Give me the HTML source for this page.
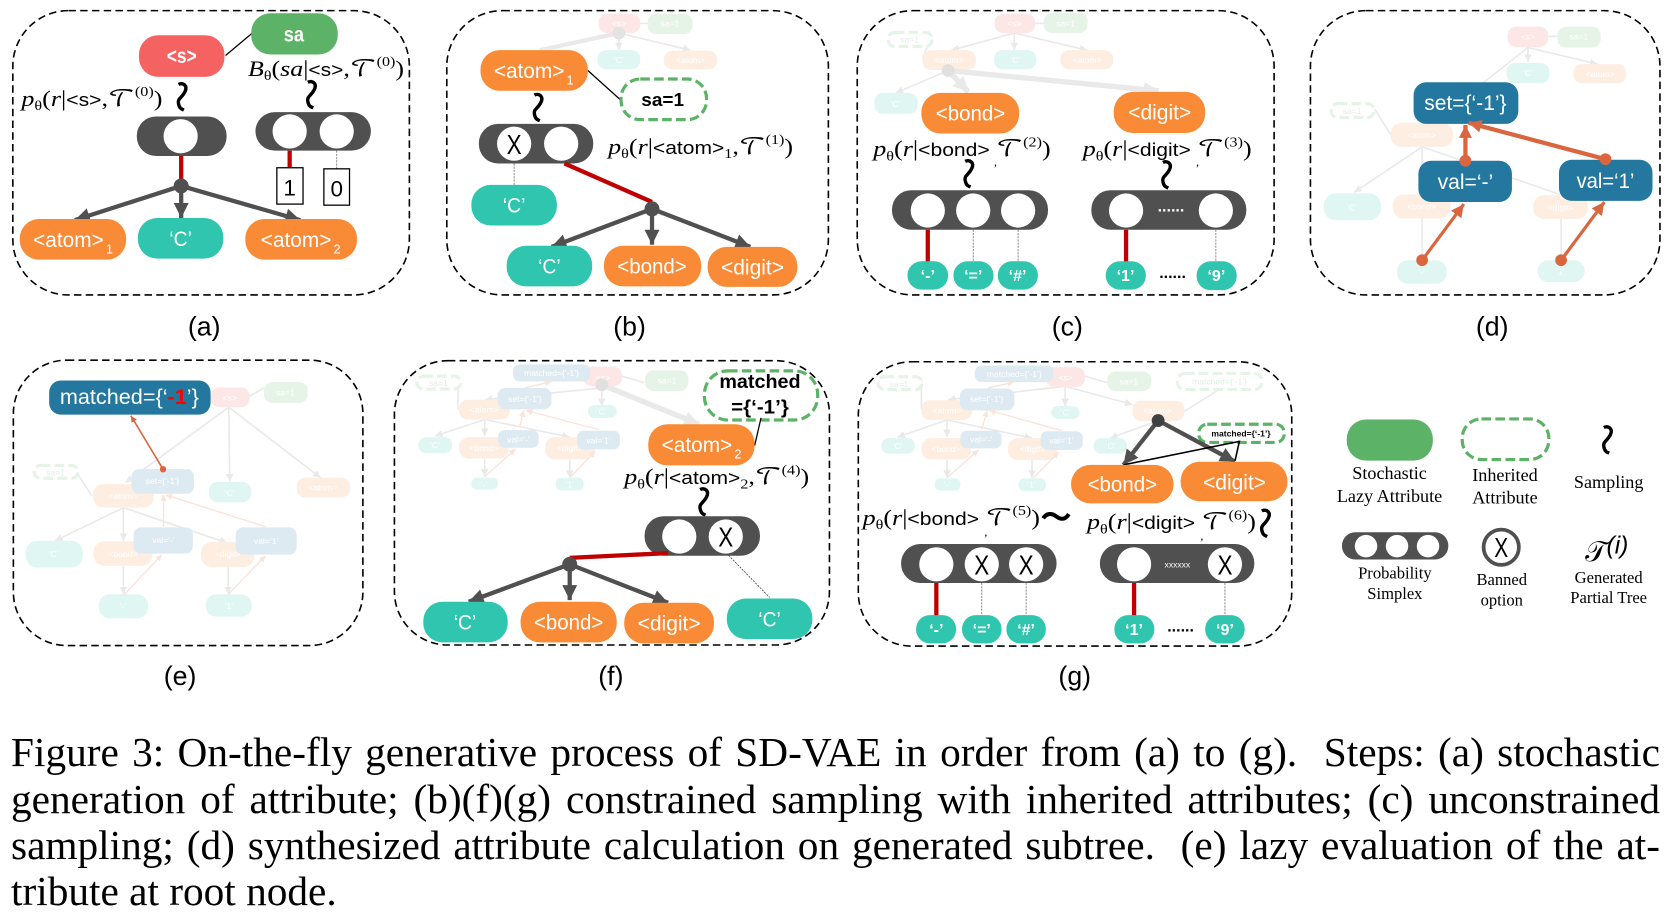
<!DOCTYPE html>
<html><head><meta charset="utf-8"><style>
html,body{margin:0;padding:0;background:#fff;width:1676px;height:918px;overflow:hidden;position:relative}
svg{display:block;position:absolute;left:0;top:.8px}
text{font-family:"Liberation Sans",sans-serif}
.m{text-anchor:middle}
.w{fill:#fff}
.n{font-size:20px;fill:#fff;text-anchor:middle}
.sub{font-size:12px;fill:#fff}
.t{font-size:15px;fill:#fff;text-anchor:middle;font-weight:bold}
.fx{font-size:8px;fill:#fff;text-anchor:middle}
.box{fill:none;stroke:#000;stroke-width:1.5;stroke-dasharray:7 4}
.o{fill:#f98b36}.c{fill:#30c5ae}.b{fill:#24789f}.g{fill:#5cb266}.r{fill:#f56262}.d{fill:#505050}
.fo{fill:#feeee2}.fc{fill:#e0f6f2}.fb{fill:#deeaf1}.fg{fill:#e6f3e7}.fr{fill:#fde6e6}
.gd{fill:#fff;stroke:#5cb266;stroke-width:3;stroke-dasharray:9 4}
.fd{fill:#fff;stroke:#e6f3e7;stroke-width:3;stroke-dasharray:9 4}
.fs{font-size:8px;fill:#dfeee1;text-anchor:middle}
.red{stroke:#c00000;stroke-width:4;fill:none}
.dash{stroke:#777;stroke-width:.8;stroke-dasharray:2 1;fill:none}
.k{stroke:#505050;stroke-width:4;fill:none;marker-end:url(#ak)}
.l{stroke:#000;stroke-width:1.2;fill:none}
.fl{stroke:#e9e9e9;stroke-width:1.5;fill:none;marker-end:url(#af)}
.fp{stroke:#e9e9e9;stroke-width:1.5;fill:none}
.fa{stroke:#fbe3da;stroke-width:1.3;fill:none;marker-end:url(#afa)}
.oa{stroke:#d9663f;fill:none}
.sq{fill:none;stroke:#000;stroke-width:3.2}
.f{font-family:"Liberation Serif",serif;font-size:21px;fill:#000}
.f .i{font-style:italic}
.f .T{font-family:"DejaVu Math TeX Gyre","DejaVu Serif","DejaVu Sans",serif}
.f .s{font-size:13px}
.f .a{font-family:"Liberation Sans",sans-serif;font-size:17px}
.lb{font-size:25px;text-anchor:middle;fill:#000}
.lg{font-family:"Liberation Serif",serif;font-size:17px;text-anchor:middle;fill:#000}
.cm{font-family:"Liberation Serif",serif;font-size:11px;fill:#000}
.x{font-size:26px;fill:#000;text-anchor:middle}
.cap{position:absolute;left:11px;width:1649px;font:41.3px/46px "Liberation Serif",serif;color:#000;white-space:nowrap;text-align:justify;text-align-last:justify}
.cap.e{text-align-last:left}
</style></head><body>
<svg width="1676" height="918" viewBox="0 0 1568 858.83" xmlns="http://www.w3.org/2000/svg">
<defs>
<marker id="ak" markerUnits="userSpaceOnUse" markerWidth="16" markerHeight="16" refX="14" refY="7" orient="auto"><path d="M0 0L14 7L0 14z" fill="#505050"/></marker>
<marker id="af" markerUnits="userSpaceOnUse" markerWidth="10" markerHeight="10" refX="7" refY="3.5" orient="auto"><path d="M0 0L7 3.5L0 7z" fill="#e9e9e9"/></marker>
<marker id="afg" markerUnits="userSpaceOnUse" markerWidth="16" markerHeight="16" refX="14" refY="7" orient="auto"><path d="M0 0L14 7L0 14z" fill="#e9e9e9"/></marker>
<marker id="afa" markerUnits="userSpaceOnUse" markerWidth="10" markerHeight="10" refX="6" refY="3" orient="auto"><path d="M0 0L6 3L0 6z" fill="#fbe3da"/></marker>
<marker id="ao" markerUnits="userSpaceOnUse" markerWidth="16" markerHeight="16" refX="12" refY="6" orient="auto"><path d="M0 0L12 6L0 12z" fill="#d9663f"/></marker>
<marker id="aos" markerUnits="userSpaceOnUse" markerWidth="10" markerHeight="10" refX="6" refY="3" orient="auto"><path d="M0 0L6 3L0 6z" fill="#d9663f"/></marker>
</defs>

<!-- (a) -->
<rect class="box" x="12" y="9" width="371" height="266" rx="52"/>
<line class="l" x1="211" y1="51" x2="236" y2="30"/>
<rect class="r" x="130" y="32" width="80" height="39" rx="18"/><text class="n" x="170" y="58" textLength="28" lengthAdjust="spacingAndGlyphs" font-weight="bold">&lt;s&gt;</text>
<rect class="g" x="235" y="11.500" width="81" height="38.500" rx="18"/><text class="n" x="275" y="38" textLength="19" lengthAdjust="spacingAndGlyphs" font-weight="bold">sa</text>
<text class="f" x="232" y="70" textLength="146" lengthAdjust="spacingAndGlyphs"><tspan class="i">B</tspan><tspan class="s" dy="4">θ</tspan><tspan dy="-4">(</tspan><tspan class="i">sa</tspan>|<tspan class="a">&lt;s&gt;</tspan>,<tspan class="T">𝒯</tspan><tspan class="s" dy="-9">(0)</tspan><tspan dy="9">)</tspan></text>
<text class="f" x="20" y="98" textLength="132" lengthAdjust="spacingAndGlyphs"><tspan class="i">p</tspan><tspan class="s" dy="4">θ</tspan><tspan dy="-4">(</tspan><tspan class="i">r</tspan>|<tspan class="a">&lt;s&gt;</tspan>,<tspan class="T">𝒯</tspan><tspan class="s" dy="-9">(0)</tspan><tspan dy="9">)</tspan></text>
<path class="sq" d="M167 78c4-2 9 1 6 7s-7 6-6 11s3 5 5 6"/>
<path class="sq" d="M288 76c4-2 9 1 6 7s-7 6-6 11s3 5 5 6"/>
<rect class="d" x="128" y="108" width="84" height="37" rx="18"/><circle class="w" cx="169" cy="126.500" r="16"/>
<rect class="d" x="239" y="104" width="108" height="36" rx="18"/><circle class="w" cx="271" cy="122" r="16"/><circle class="w" cx="315" cy="122" r="16"/>
<line class="red" x1="169.500" y1="145" x2="169.500" y2="170"/>
<line class="red" x1="271" y1="140" x2="271" y2="156"/><line class="dash" x1="315" y1="140" x2="315" y2="157"/>
<rect x="259" y="156" width="24.500" height="34" fill="#fff" stroke="#000" stroke-width="1.200"/><text x="271" y="182" class="m" font-size="21">1</text>
<rect x="303" y="157" width="24" height="34" fill="#fff" stroke="#000" stroke-width="1.200"/><text x="315" y="183" class="m" font-size="21">0</text>
<line class="k" x1="169.500" y1="173" x2="70" y2="205"/><line class="k" x1="169.500" y1="173" x2="169.500" y2="203"/><line class="k" x1="169.500" y1="173" x2="281" y2="205"/>
<circle class="d" cx="169.500" cy="173" r="7"/>
<rect class="o" x="18.500" y="204" width="99.500" height="38" rx="18"/><text class="n" x="64" y="230" textLength="66" lengthAdjust="spacingAndGlyphs">&lt;atom&gt;</text><text class="sub" x="99" y="236">1</text>
<rect class="c" x="129" y="203" width="80" height="38" rx="18"/><text class="n" x="169" y="229" textLength="21" lengthAdjust="spacingAndGlyphs">‘C’</text>
<rect class="o" x="229.500" y="204" width="104.500" height="38" rx="18"/><text class="n" x="277" y="230" textLength="66" lengthAdjust="spacingAndGlyphs">&lt;atom&gt;</text><text class="sub" x="312" y="236">2</text>
<text class="lb" x="191" y="313">(a)</text>

<!-- (b) -->
<rect class="box" x="418" y="9" width="357" height="266" rx="52"/>
<rect class="fr" x="560" y="12" width="39" height="18" rx="8"/><text class="fx" x="579" y="24">&lt;s&gt;</text>
<rect class="fg" x="606" y="12" width="42" height="19" rx="8"/><text class="fx" x="627" y="24">sa=1</text>
<path class="fp" d="M599 21H606"/>
<path d="M579 30L505 46" stroke="#e9e9e9" stroke-width="4" fill="none"/><path class="fl" d="M579 30V46"/><path class="fl" d="M579 30L646 46"/>
<circle cx="579" cy="30" r="6" fill="#e3e3e3"/>
<rect class="fc" x="559" y="46" width="40" height="18" rx="8"/><text class="fx" x="579" y="58">‘C’</text>
<rect class="fo" x="621" y="46.500" width="50" height="17.500" rx="8"/><text class="fx" x="646" y="58">&lt;atom&gt;</text>
<line class="l" x1="550" y1="65" x2="580" y2="92"/>
<rect class="o" x="449.500" y="46" width="100.500" height="38" rx="18"/><text class="n" x="495" y="72" textLength="66" lengthAdjust="spacingAndGlyphs">&lt;atom&gt;</text><text class="sub" x="530" y="78">1</text>
<rect class="gd" x="581" y="73" width="80" height="38" rx="18"/><text x="620" y="98" class="m" font-size="17" font-weight="bold" textLength="40" lengthAdjust="spacingAndGlyphs">sa=1</text>
<path class="sq" d="M500 88c4-2 9 1 6 7s-7 6-6 11s3 5 5 6"/>
<rect class="d" x="448" y="115" width="107" height="37" rx="18"/><circle class="w" cx="481" cy="133.500" r="16"/><circle class="w" cx="525" cy="133.500" r="16"/><text class="x" x="481" y="143" textLength="14" lengthAdjust="spacingAndGlyphs">X</text>
<text class="f" x="569" y="143" textLength="173" lengthAdjust="spacingAndGlyphs"><tspan class="i">p</tspan><tspan class="s" dy="4">θ</tspan><tspan dy="-4">(</tspan><tspan class="i">r</tspan>|<tspan class="a">&lt;atom&gt;</tspan><tspan class="s" dy="4">1</tspan><tspan dy="-4">,</tspan><tspan class="T">𝒯</tspan><tspan class="s" dy="-9">(1)</tspan><tspan dy="9">)</tspan></text>
<line class="dash" x1="481" y1="152" x2="481" y2="172"/>
<rect class="c" x="441" y="172" width="80" height="38" rx="18"/><text class="n" x="481" y="198" textLength="21" lengthAdjust="spacingAndGlyphs">‘C’</text>
<line class="red" x1="528" y1="152" x2="610" y2="188"/>
<line class="k" x1="610" y1="194.500" x2="516" y2="230"/><line class="k" x1="610" y1="194.500" x2="610" y2="228"/><line class="k" x1="610" y1="194.500" x2="702" y2="230"/>
<circle class="d" cx="610" cy="194.500" r="7"/>
<rect class="c" x="474" y="229" width="80" height="38" rx="18"/><text class="n" x="514" y="255" textLength="21" lengthAdjust="spacingAndGlyphs">‘C’</text>
<rect class="o" x="565" y="229" width="91" height="38" rx="18"/><text class="n" x="610" y="255" textLength="65" lengthAdjust="spacingAndGlyphs">&lt;bond&gt;</text>
<rect class="o" x="662" y="230" width="84" height="37.500" rx="18"/><text class="n" x="704" y="256" textLength="59" lengthAdjust="spacingAndGlyphs">&lt;digit&gt;</text>
<text class="lb" x="589" y="313">(b)</text>

<!-- (c) -->
<rect class="box" x="802" y="9" width="390" height="266" rx="52"/>
<path class="fp" d="M968 21H977M872 32L863 54"/>
<path class="fl" d="M949 30L890 46"/><path class="fl" d="M949 30V46"/><path class="fl" d="M949 30L1017 46"/><path class="fl" d="M887 65L838 86"/>
<rect class="fr" x="930.500" y="12" width="38" height="18" rx="8"/><text class="fx" x="949" y="24">&lt;s&gt;</text>
<rect class="fg" x="976.500" y="11" width="41" height="19" rx="8"/><text class="fx" x="997" y="24">sa=1</text>
<rect class="fd" x="831" y="29.500" width="41" height="13" rx="6"/><text class="fs" x="851" y="39">sa=1</text>
<rect class="fo" x="863" y="46" width="50" height="18.500" rx="8"/><text class="fx" x="888" y="58">&lt;atom&gt;</text>
<rect class="fc" x="930" y="46" width="39.500" height="18" rx="8"/><text class="fx" x="950" y="58">‘C’</text>
<rect class="fo" x="992" y="46" width="49.500" height="18" rx="8"/><text class="fx" x="1017" y="58">&lt;atom&gt;</text>
<rect class="fc" x="818" y="86" width="40.500" height="19.500" rx="8"/><text class="fx" x="838" y="99">‘C’</text>
<path d="M887 65L906 85" stroke="#e9e9e9" stroke-width="5" fill="none" marker-end="url(#afg)"/><path d="M887 65L1084 84" stroke="#e9e9e9" stroke-width="5" fill="none" marker-end="url(#afg)"/>
<circle cx="887" cy="65" r="6" fill="#e0e0e0"/>
<rect class="o" x="862" y="86" width="91.500" height="38" rx="18"/><text class="n" x="908" y="112" textLength="65" lengthAdjust="spacingAndGlyphs">&lt;bond&gt;</text>
<rect class="o" x="1042" y="85" width="85.500" height="38.500" rx="18"/><text class="n" x="1085" y="111" textLength="59" lengthAdjust="spacingAndGlyphs">&lt;digit&gt;</text>
<text class="f" x="817" y="145" textLength="166" lengthAdjust="spacingAndGlyphs"><tspan class="i">p</tspan><tspan class="s" dy="4">θ</tspan><tspan dy="-4">(</tspan><tspan class="i">r</tspan>|<tspan class="a">&lt;bond&gt;</tspan> <tspan class="T">𝒯</tspan><tspan class="s" dy="-9">(2)</tspan><tspan dy="9">)</tspan></text>
<text class="f" x="1013" y="145" textLength="158" lengthAdjust="spacingAndGlyphs"><tspan class="i">p</tspan><tspan class="s" dy="4">θ</tspan><tspan dy="-4">(</tspan><tspan class="i">r</tspan>|<tspan class="a">&lt;digit&gt;</tspan> <tspan class="T">𝒯</tspan><tspan class="s" dy="-9">(3)</tspan><tspan dy="9">)</tspan></text>
<text class="cm" x="930" y="154">,</text><text class="cm" x="1119" y="154">,</text>
<path class="sq" d="M903 150c4-2 9 1 6 7s-7 6-6 11s3 5 5 6"/><path class="sq" d="M1088 151c4-2 9 1 6 7s-7 6-6 11s3 5 5 6"/>
<rect class="d" x="834.500" y="177" width="146" height="37" rx="18"/><circle class="w" cx="868" cy="196" r="16"/><circle class="w" cx="910.500" cy="196" r="16"/><circle class="w" cx="952.500" cy="196" r="16"/>
<rect class="d" x="1021" y="177" width="145" height="37" rx="18"/><circle class="w" cx="1053.500" cy="196" r="16"/><circle class="w" cx="1137.500" cy="196" r="16"/><text x="1095.500" y="197" class="m w" font-size="15" font-weight="bold">......</text>
<line class="red" x1="868" y1="214" x2="868" y2="244"/><line class="dash" x1="910.500" y1="214" x2="910.500" y2="244"/><line class="dash" x1="952.500" y1="214" x2="952.500" y2="244"/>
<line class="red" x1="1053.500" y1="214" x2="1053.500" y2="244"/><line class="dash" x1="1137.500" y1="214" x2="1137.500" y2="244"/>
<rect class="c" x="849" y="243.500" width="38" height="26.500" rx="13"/><text class="t" x="868" y="262">‘-’</text>
<rect class="c" x="892" y="243.500" width="37.500" height="26.500" rx="13"/><text class="t" x="910.500" y="262">‘=’</text>
<rect class="c" x="933.500" y="243.500" width="37.500" height="26.500" rx="13"/><text class="t" x="952" y="262">‘#’</text>
<rect class="c" x="1034.500" y="243.500" width="37.500" height="26.500" rx="13"/><text class="t" x="1053" y="262">‘1’</text>
<rect class="c" x="1119.500" y="243.500" width="37.500" height="27" rx="13"/><text class="t" x="1138" y="262">‘9’</text>
<text x="1097" y="259" class="m" font-size="15" font-weight="bold">......</text>
<text class="lb" x="998.500" y="313">(c)</text>

<!-- (d) -->
<rect class="box" x="1226" y="9" width="327" height="266" rx="52"/>
<path class="fp" d="M1449 33H1457M1286 101L1301 125M1429.500 43.500L1340 114"/>
<path class="fl" d="M1429.500 43.500V57"/><path class="fl" d="M1429.500 43.500L1494.500 59"/>
<path class="fl" d="M1330.500 136.500L1267 179"/><path class="fp" d="M1330.500 136.500V181M1330.500 136.500L1459.500 181M1330.500 203V243M1460.500 203V243"/>
<rect class="fr" x="1410.500" y="24" width="38" height="19" rx="8"/><text class="fx" x="1429.500" y="36">&lt;s&gt;</text>
<rect class="fg" x="1457" y="24" width="40.500" height="19.500" rx="8"/><text class="fx" x="1477" y="36">sa=1</text>
<rect class="fc" x="1409.500" y="58" width="40" height="19" rx="8"/><text class="fx" x="1429.500" y="70">‘C’</text>
<rect class="fo" x="1472" y="59" width="49.500" height="18" rx="8"/><text class="fx" x="1497" y="71">&lt;atom&gt;</text>
<rect class="fd" x="1245.500" y="96" width="40" height="13" rx="6"/><text class="fs" x="1265" y="105.500">sa=1</text>
<rect class="fo" x="1301" y="114" width="58.500" height="22.500" rx="10"/><text class="fx" x="1330" y="128">&lt;atom&gt;</text>
<rect class="fc" x="1238.500" y="180" width="53.500" height="25" rx="11"/><text class="fx" x="1265" y="196">‘C’</text>
<rect class="fo" x="1303" y="181" width="54" height="22.500" rx="10"/><text class="fx" x="1330" y="195">&lt;bond&gt;</text>
<rect class="fo" x="1434.500" y="181.500" width="51" height="22.500" rx="10"/><text class="fx" x="1460" y="196">&lt;digit&gt;</text>
<rect class="fc" x="1307" y="242.500" width="46.500" height="22" rx="10"/><text class="fx" x="1330" y="256">‘-’</text>
<rect class="fc" x="1438.500" y="242.500" width="44" height="20.500" rx="10"/><text class="fx" x="1460" y="256">‘1’</text>
<rect class="b" x="1322.500" y="76" width="98" height="39" rx="12"/><text class="n" x="1371" y="102" textLength="77" lengthAdjust="spacingAndGlyphs">set={‘-1’}</text>
<rect class="b" x="1327" y="149.500" width="87.500" height="38.500" rx="12"/><text class="n" x="1371" y="176" textLength="52" lengthAdjust="spacingAndGlyphs">val=‘-’</text>
<rect class="b" x="1458.500" y="148.500" width="87.500" height="38.500" rx="12"/><text class="n" x="1502" y="175" textLength="54" lengthAdjust="spacingAndGlyphs">val=‘1’</text>
<path class="oa" d="M1371 149.500V116" stroke-width="4" marker-end="url(#ao)"/>
<path class="oa" d="M1502 148L1374 114" stroke-width="4" marker-end="url(#ao)"/>
<circle cx="1371" cy="149.500" r="5.500" fill="#d9663f"/><circle cx="1502" cy="148" r="5.500" fill="#d9663f"/>
<path class="oa" d="M1330.500 242.500L1369.500 190" stroke-width="3" marker-end="url(#ao)"/>
<path class="oa" d="M1460.500 242.500L1501 188" stroke-width="3" marker-end="url(#ao)"/>
<circle cx="1330.500" cy="242.500" r="5.500" fill="#d9663f"/><circle cx="1460.500" cy="242.500" r="5.500" fill="#d9663f"/>
<text class="lb" x="1396" y="313">(d)</text>

<!-- (e) -->
<rect class="box" x="12.500" y="336" width="327" height="267" rx="50"/>
<path class="fp" d="M233 370L247 362M71 440L86 463"/>
<path class="fl" d="M214 380L117.500 450.500"/><path class="fl" d="M214 380L215 449.500"/><path class="fl" d="M214 380L300 446"/>
<path class="fl" d="M115.500 474L51.500 505"/><path class="fl" d="M115.500 474V505"/><path class="fl" d="M115.500 474L212.500 507"/><path class="fl" d="M115.500 529V555"/><path class="fl" d="M213.500 529V555"/>
<rect class="fr" x="197" y="361.500" width="36.500" height="18.500" rx="8"/><text class="fx" x="215" y="374">&lt;s&gt;</text>
<rect class="fg" x="247" y="356.500" width="41" height="19.500" rx="8"/><text class="fx" x="267" y="369">sa=1</text>
<rect class="fd" x="32" y="434.500" width="41" height="12" rx="6"/><text class="fs" x="52" y="444">sa=1</text>
<rect class="fo" x="87" y="452" width="57" height="22" rx="10"/><text class="fx" x="115" y="466">&lt;atom&gt;</text>
<rect class="fc" x="195.500" y="450" width="39.500" height="19" rx="8"/><text class="fx" x="215" y="463">‘C’</text>
<rect class="fo" x="277.500" y="446" width="50" height="18.500" rx="8"/><text class="fx" x="302" y="458">&lt;atom&gt;</text>
<rect class="fc" x="24" y="505" width="53.500" height="25" rx="11"/><text class="fx" x="50" y="520">‘C’</text>
<rect class="fo" x="87.500" y="505.500" width="55" height="23" rx="10"/><text class="fx" x="115" y="520">&lt;bond&gt;</text>
<rect class="fo" x="188" y="506" width="50" height="23.500" rx="10"/><text class="fx" x="213" y="520">&lt;digit&gt;</text>
<rect class="fc" x="92.500" y="555" width="46" height="22.500" rx="10"/><text class="fx" x="115" y="569">‘-’</text>
<rect class="fc" x="192.500" y="555" width="43" height="21" rx="10"/><text class="fx" x="214" y="569">‘1’</text>
<rect class="fb" x="123" y="438" width="58.500" height="23" rx="7"/><text class="fx" x="152" y="452">set={‘-1’}</text>
<rect class="fb" x="125" y="492.500" width="55.500" height="24.500" rx="7"/><text class="fx" x="153" y="507">val=‘-’</text>
<rect class="fb" x="220.500" y="492.500" width="57" height="25.500" rx="7"/><text class="fx" x="249" y="508">val=‘1’</text>
<path class="fa" d="M153 492V462"/><path class="fa" d="M249 492L155 462"/><path class="fa" d="M115.500 556L151.500 518"/><path class="fa" d="M213.500 555L248.500 519"/>
<rect class="b" x="46" y="355" width="151" height="32" rx="11"/>
<text x="121" y="377" class="m" font-size="20" fill="#fff" textLength="130" lengthAdjust="spacingAndGlyphs">matched={‘<tspan fill="#f00" font-weight="bold">-1</tspan>’}</text>
<path class="oa" d="M152.500 438L122.500 388" stroke-width="1.500" marker-end="url(#aos)"/><circle cx="152.500" cy="438" r="3" fill="#d9663f"/>
<text class="lb" x="168.500" y="640">(e)</text>

<!-- (f) -->
<rect class="box" x="369" y="336.500" width="407" height="266" rx="50"/>
<path class="fp" d="M582 351L603 357M428.500 354V382"/>
<path class="fl" d="M563 362L453.500 373"/><path class="fl" d="M563 362V379"/>
<path d="M563 359L654 396" stroke="#e9e9e9" stroke-width="5" fill="none" marker-end="url(#afg)"/>
<path class="fl" d="M453.500 391.500L407 407"/><path class="fl" d="M453.500 391.500V407"/><path class="fl" d="M453.500 391.500L533 408"/><path class="fl" d="M453.500 428V445"/><path class="fl" d="M533 428V446"/>
<rect class="fd" x="390" y="351" width="41" height="12" rx="6"/><text class="fs" x="410" y="360">sa=1</text>
<rect class="fr" x="546" y="342" width="36" height="18.500" rx="8"/><text class="fx" x="564" y="355">&lt;s&gt;</text>
<rect class="fb" x="480" y="340" width="72" height="16" rx="6"/><text class="fx" x="516" y="351">matched={‘-1’}</text>
<rect class="fg" x="603.500" y="345.500" width="40.500" height="19.500" rx="8"/><text class="fx" x="624" y="358">sa=1</text>
<rect class="fo" x="429.500" y="373" width="47.500" height="18.500" rx="8"/><text class="fx" x="453" y="385">&lt;atom&gt;</text>
<rect class="fb" x="465.500" y="362" width="50.500" height="20" rx="7"/><text class="fx" x="491" y="375">set={‘-1’}</text>
<rect class="fc" x="550" y="378" width="27" height="12" rx="6"/><text class="fx" x="563" y="387">‘C’</text>
<rect class="fc" x="391.500" y="408" width="31.500" height="15" rx="7"/><text class="fx" x="407" y="418">‘C’</text>
<rect class="fo" x="429.500" y="408" width="46.500" height="20" rx="9"/><text class="fx" x="453" y="421">&lt;bond&gt;</text>
<rect class="fo" x="510" y="408" width="46" height="21" rx="9"/><text class="fx" x="533" y="421">&lt;digit&gt;</text>
<rect class="fb" x="466" y="401.500" width="38" height="16.500" rx="6"/><text class="fx" x="485" y="413">val=‘-’</text>
<rect class="fb" x="540" y="402" width="40" height="17.500" rx="6"/><text class="fx" x="560" y="414">val=‘1’</text>
<rect class="fc" x="441" y="446" width="25" height="11" rx="5"/><text class="fx" x="453" y="455">‘-’</text>
<rect class="fc" x="520" y="446" width="26" height="12" rx="5"/><text class="fx" x="533" y="455">‘1’</text>
<path class="fa" d="M486 399L490 383"/><path class="fa" d="M560 401L492 383"/><path class="fa" d="M453.500 445L482.500 419"/><path class="fa" d="M534 445L557 421"/><path class="fa" d="M491 362L516 356"/>
<circle cx="563" cy="359" r="6" fill="#e0e0e0"/>
<rect class="gd" x="659" y="346" width="106" height="46" rx="22"/>
<text x="711" y="362" class="m" font-size="18" font-weight="bold" textLength="76" lengthAdjust="spacingAndGlyphs">matched</text>
<text x="711" y="386" class="m" font-size="18" font-weight="bold" textLength="54" lengthAdjust="spacingAndGlyphs">={‘-1’}</text>
<line class="l" x1="712" y1="390" x2="706" y2="416"/>
<rect class="o" x="606.500" y="396" width="99.500" height="38.500" rx="18"/><text class="n" x="652" y="422" textLength="66" lengthAdjust="spacingAndGlyphs">&lt;atom&gt;</text><text class="sub" x="687" y="428">2</text>
<text class="f" x="584" y="452" textLength="173" lengthAdjust="spacingAndGlyphs"><tspan class="i">p</tspan><tspan class="s" dy="4">θ</tspan><tspan dy="-4">(</tspan><tspan class="i">r</tspan>|<tspan class="a">&lt;atom&gt;</tspan><tspan class="s" dy="4">2</tspan><tspan dy="-4">,</tspan><tspan class="T">𝒯</tspan><tspan class="s" dy="-9">(4)</tspan><tspan dy="9">)</tspan></text>
<path class="sq" d="M655 457c4-2 9 1 6 7s-7 6-6 11s3 5 5 6"/>
<rect class="d" x="603" y="482" width="108" height="37" rx="18"/><circle class="w" cx="635.500" cy="501" r="16"/><circle class="w" cx="679" cy="501" r="16"/><text class="x" x="679" y="510.500" textLength="14" lengthAdjust="spacingAndGlyphs">X</text>
<line class="red" x1="625" y1="516.500" x2="533" y2="521"/>
<line class="k" x1="533" y1="527" x2="438.500" y2="562"/><line class="k" x1="533" y1="527" x2="533" y2="560.500"/><line class="k" x1="533" y1="527" x2="625" y2="563"/>
<circle class="d" cx="533" cy="527" r="7"/>
<line x1="681.500" y1="518.500" x2="720" y2="558" stroke="#555" stroke-width=".8" stroke-dasharray="2 1"/>
<rect class="c" x="396" y="562" width="79" height="38" rx="18"/><text class="n" x="435" y="588" textLength="21" lengthAdjust="spacingAndGlyphs">‘C’</text>
<rect class="o" x="487" y="562" width="90" height="38" rx="18"/><text class="n" x="532" y="588" textLength="65" lengthAdjust="spacingAndGlyphs">&lt;bond&gt;</text>
<rect class="o" x="584" y="563" width="84" height="38" rx="18"/><text class="n" x="626" y="589" textLength="59" lengthAdjust="spacingAndGlyphs">&lt;digit&gt;</text>
<rect class="c" x="680" y="559" width="80" height="38" rx="18"/><text class="n" x="720" y="585" textLength="21" lengthAdjust="spacingAndGlyphs">‘C’</text>
<text class="lb" x="571.500" y="640">(f)</text>

<!-- (g) -->
<rect class="box" x="803" y="337.500" width="405.500" height="266" rx="50"/>
<path class="fp" d="M1015 351L1036 357M862 354V382M1140.500 363.500L1108 384"/>
<path class="fl" d="M996.500 360.500L887 373"/><path class="fl" d="M996.500 360.500L1059.500 377.500"/><path class="fl" d="M996.500 360.500V379"/>
<path class="fl" d="M886 392L839.500 408"/><path class="fl" d="M886 392V408"/><path class="fl" d="M886 392L965.500 409"/><path class="fl" d="M886 429V446"/><path class="fl" d="M965.500 429V446"/><path class="fl" d="M1083.500 392.500L1038.500 409"/>
<rect class="fd" x="821.500" y="351.500" width="41" height="12" rx="6"/><text class="fs" x="841" y="361">sa=1</text>
<rect class="fr" x="978.500" y="342.500" width="36.500" height="18.500" rx="8"/><text class="fx" x="997" y="355">&lt;s&gt;</text>
<rect class="fb" x="912" y="341" width="73.500" height="15.500" rx="6"/><text class="fx" x="949" y="352">matched={‘-1’}</text>
<rect class="fg" x="1036" y="346.500" width="41" height="18.500" rx="8"/><text class="fx" x="1056" y="359">sa=1</text>
<rect class="fd" x="1101.500" y="348.500" width="79" height="15" rx="7"/><text class="fs" x="1141" y="359">matched={‘-1’}</text>
<rect class="fo" x="862" y="373.500" width="47.500" height="18.500" rx="8"/><text class="fx" x="886" y="386">&lt;atom&gt;</text>
<rect class="fb" x="898" y="362.500" width="51" height="20.500" rx="7"/><text class="fx" x="923" y="375">set={‘-1’}</text>
<rect class="fc" x="983.500" y="379" width="26.500" height="12" rx="6"/><text class="fx" x="997" y="388">‘C’</text>
<rect class="fo" x="1059.500" y="374" width="48.500" height="19" rx="8"/><text class="fx" x="1083" y="386">&lt;atom&gt;</text>
<rect class="fc" x="824.500" y="409" width="31.500" height="14.500" rx="7"/><text class="fx" x="840" y="419">‘C’</text>
<rect class="fo" x="862" y="409" width="46.500" height="20" rx="9"/><text class="fx" x="885" y="422">&lt;bond&gt;</text>
<rect class="fb" x="898.500" y="402" width="38.500" height="16.500" rx="6"/><text class="fx" x="918" y="413">val=‘-’</text>
<rect class="fo" x="943" y="409" width="46.500" height="20.500" rx="9"/><text class="fx" x="966" y="422">&lt;digit&gt;</text>
<rect class="fb" x="973.500" y="402.500" width="39.500" height="17.500" rx="6"/><text class="fx" x="993" y="414">val=‘1’</text>
<rect class="fc" x="1023" y="409" width="31.500" height="14.500" rx="7"/><text class="fx" x="1039" y="419">‘C’</text>
<rect class="fc" x="874.500" y="446.500" width="24" height="11.500" rx="5"/><text class="fx" x="886" y="455">‘-’</text>
<rect class="fc" x="953" y="446.500" width="25.500" height="12" rx="5"/><text class="fx" x="965" y="455">‘1’</text>
<path class="fa" d="M918.500 401L923.500 383"/><path class="fa" d="M993.500 402L925.500 383"/><path class="fa" d="M886 446L915.500 420"/><path class="fa" d="M967 446L990.500 422"/><path class="fa" d="M924.500 362L948.500 356.500"/>
<rect class="gd" x="1121.500" y="396" width="80" height="17" rx="8"/><text x="1161" y="407.500" class="m" font-size="8" font-weight="bold">matched={‘-1’}</text>
<line class="k" x1="1083.500" y1="392.500" x2="1051" y2="434"/><line class="k" x1="1083.500" y1="392.500" x2="1155.500" y2="431"/>
<circle class="d" cx="1083.500" cy="392.500" r="6" style="fill:#404040"/>
<path d="M1051 434L1159.500 412L1155.500 430" fill="none" stroke="#000" stroke-width="1.500"/>
<rect class="o" x="1002" y="434" width="96" height="36" rx="18"/><text class="n" x="1050" y="459" textLength="65" lengthAdjust="spacingAndGlyphs">&lt;bond&gt;</text>
<rect class="o" x="1104.500" y="431" width="100" height="37" rx="18"/><text class="n" x="1155" y="457" textLength="59" lengthAdjust="spacingAndGlyphs">&lt;digit&gt;</text>
<text class="f" x="807" y="490" textLength="166" lengthAdjust="spacingAndGlyphs"><tspan class="i">p</tspan><tspan class="s" dy="4">θ</tspan><tspan dy="-4">(</tspan><tspan class="i">r</tspan>|<tspan class="a">&lt;bond&gt;</tspan> <tspan class="T">𝒯</tspan><tspan class="s" dy="-9">(5)</tspan><tspan dy="9">)</tspan></text>
<text class="cm" x="921" y="500">,</text><text class="cm" x="1123" y="504">,</text>
<path class="sq" d="M976 484c3-5 8-5 12-2s8 4 12-2" style="stroke-width:3.800"/>
<text class="f" x="1017" y="494" textLength="158" lengthAdjust="spacingAndGlyphs"><tspan class="i">p</tspan><tspan class="s" dy="4">θ</tspan><tspan dy="-4">(</tspan><tspan class="i">r</tspan>|<tspan class="a">&lt;digit&gt;</tspan> <tspan class="T">𝒯</tspan><tspan class="s" dy="-9">(6)</tspan><tspan dy="9">)</tspan></text>
<path class="sq" d="M1180.500 477c4-2 9 1 6 7s-7 6-6 11s3 5 5 6"/>
<rect class="d" x="843" y="508" width="145.500" height="36.500" rx="18"/><circle class="w" cx="876" cy="527" r="16"/><circle class="w" cx="918.500" cy="527" r="16"/><circle class="w" cx="960" cy="527" r="16"/><text class="x" x="918.500" y="536.500" textLength="14" lengthAdjust="spacingAndGlyphs">X</text><text class="x" x="960" y="536.500" textLength="14" lengthAdjust="spacingAndGlyphs">X</text>
<rect class="d" x="1029" y="508" width="144.500" height="36.500" rx="18"/><circle class="w" cx="1061" cy="527" r="16"/><circle class="w" cx="1146" cy="527" r="16"/><text class="x" x="1146" y="536.500" textLength="14" lengthAdjust="spacingAndGlyphs">X</text><text x="1101.500" y="530" class="m w" font-size="8">xxxxxx</text>
<line class="red" x1="876" y1="544.500" x2="876" y2="575"/><line class="dash" x1="918.500" y1="544.500" x2="918.500" y2="575"/><line class="dash" x1="960" y1="544.500" x2="960" y2="575"/>
<line class="red" x1="1061" y1="544.500" x2="1061" y2="575"/><line class="dash" x1="1146" y1="544.500" x2="1146" y2="575"/>
<rect class="c" x="857" y="574.500" width="37.500" height="26.500" rx="13"/><text class="t" x="876" y="593">‘-’</text>
<rect class="c" x="900" y="574.500" width="37" height="26.500" rx="13"/><text class="t" x="918.500" y="593">‘=’</text>
<rect class="c" x="941.500" y="574.500" width="37" height="26.500" rx="13"/><text class="t" x="960" y="593">‘#’</text>
<rect class="c" x="1042.500" y="574.500" width="37.500" height="26.500" rx="13"/><text class="t" x="1061" y="593">‘1’</text>
<rect class="c" x="1127.500" y="574.500" width="37" height="26.500" rx="13"/><text class="t" x="1146" y="593">‘9’</text>
<text x="1104.500" y="590" class="m" font-size="15" font-weight="bold">......</text>
<text class="lb" x="1005.500" y="640">(g)</text>

<!-- legend -->
<rect class="g" x="1260" y="391.500" width="80.500" height="38.500" rx="18"/>
<rect class="gd" x="1368" y="391" width="81" height="38" rx="18"/>
<path class="sq" d="M1500.500 399c4-2 9 1 6 7s-7 6-6 11s3 5 5 6"/>
<text class="lg" x="1300" y="447">Stochastic</text><text class="lg" x="1300" y="468.500">Lazy Attribute</text>
<text class="lg" x="1408" y="449">Inherited</text><text class="lg" x="1408" y="470">Attribute</text>
<text class="lg" x="1505" y="455.500">Sampling</text>
<rect class="d" x="1255.500" y="497" width="99.500" height="25.500" rx="12.500"/><ellipse class="w" cx="1278" cy="510" rx="10.500" ry="10.500"/><ellipse class="w" cx="1307" cy="510" rx="10.500" ry="10.500"/><ellipse class="w" cx="1336" cy="510" rx="10.500" ry="10.500"/>
<circle cx="1404.500" cy="511" r="16.500" fill="#fff" stroke="#505050" stroke-width="3.500"/><text x="1404.500" y="520" class="x" font-size="24" textLength="13" lengthAdjust="spacingAndGlyphs">X</text>
<text class="lg" x="1305" y="540.500" style="font-size:15.500px">Probability</text><text class="lg" x="1305" y="559.500" style="font-size:15.500px">Simplex</text>
<text class="lg" x="1405" y="546.500" style="font-size:15.500px">Banned</text><text class="lg" x="1405" y="565.500" style="font-size:15.500px">option</text>
<text x="1483" y="524" font-family="DejaVu Math TeX Gyre,DejaVu Serif,serif" font-size="26">𝒯</text><text x="1503" y="517" font-family="Liberation Serif" font-style="italic" font-size="23">(i)</text>
<text class="lg" x="1505" y="544.500" style="font-size:15.500px">Generated</text><text class="lg" x="1505" y="563" style="font-size:15.500px">Partial Tree</text>
</svg>

<div class="cap" style="top:729px">Figure 3: On-the-fly generative process of SD-VAE in order from (a) to (g).&nbsp; Steps: (a) stochastic</div>
<div class="cap" style="top:775.700px">generation of attribute; (b)(f)(g) constrained sampling with inherited attributes; (c) unconstrained</div>
<div class="cap" style="top:822px">sampling; (d) synthesized attribute calculation on generated subtree.&nbsp; (e) lazy evaluation of the at-</div>
<div class="cap e" style="top:868px">tribute at root node.</div>
</body></html>
